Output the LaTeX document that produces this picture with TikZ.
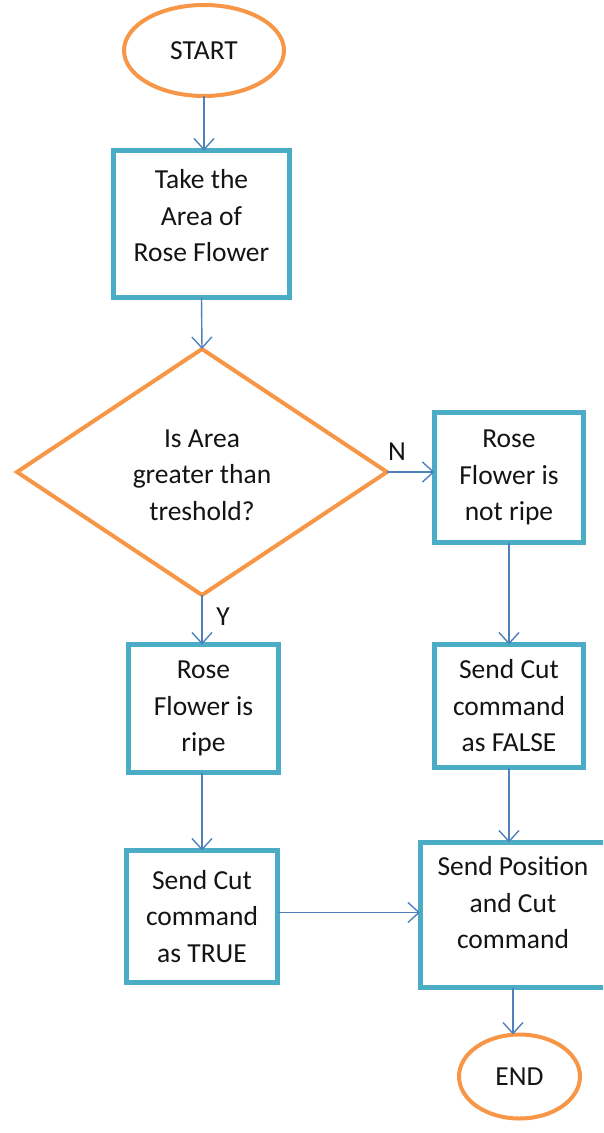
\documentclass[tikz,border=0pt]{standalone}
\usepackage{fontspec}
\setmainfont{Carlito}
\usetikzlibrary{shapes.geometric,arrows.meta}
\definecolor{termorange}{HTML}{F79646}
\definecolor{boxteal}{HTML}{4BACC6}
\definecolor{flowblue}{HTML}{4F81BD}
\definecolor{inkdark}{HTML}{141414}
\begin{document}
\begin{tikzpicture}[x=1pt,y=-1pt,
  every node/.style={font=\fontsize{27.5}{36.5}\selectfont, text=inkdark,
    inner sep=0pt, outer sep=0pt, align=center},
  terminal/.style={ellipse, draw=termorange, line width=4pt},
  decision/.style={diamond, draw=termorange, line width=4pt},
  stepbox/.style={rectangle, draw=boxteal, line width=5pt},
  flow/.style={draw=flowblue, line width=1.4pt,
    -{Straight Barb[length=11pt,width=20pt,line width=1.4pt]}}]
  \useasboundingbox (0,0) rectangle (603,1133);
  \clip (0,0) rectangle (603,1133);

  % terminals
  \node[terminal, minimum width=160pt, minimum height=91pt] (start) at (204,50.5) {START};
  \node[terminal, minimum width=121pt, minimum height=84pt] (end) at (519.5,1076.5) {END};

  % process boxes
  \node[stepbox, minimum width=176pt, minimum height=147pt] (take) at (201.5,224) {};
  \node (taketext) at (201.5,216) {Take the\\Area of\\Rose Flower};
  \node[stepbox, minimum width=149pt, minimum height=130pt] (notripe) at (509,477.5)
    {Rose\\Flower is\\not ripe};
  \node[stepbox, minimum width=149pt, minimum height=123pt] (sendfalse) at (509,706)
    {Send Cut\\command\\as FALSE};
  \node[stepbox, minimum width=150pt, minimum height=128pt] (ripe) at (203.5,708.5)
    {Rose\\Flower is\\ripe};
  \node[stepbox, minimum width=151pt, minimum height=132pt] (sendtrue) at (202,916.5)
    {Send Cut\\command\\as TRUE};
  \node[stepbox, minimum width=186pt, minimum height=145pt] (sendpos) at (513,915) {};
  \node (sendpostext) at (513,903) {Send Position\\and Cut\\command};

  % decision
  \node[decision, minimum width=370pt, minimum height=246pt] (check) at (202,472) {};
  \node (checktext) at (202,475) {Is Area\\greater than\\treshold?};

  % branch labels
  \node (nlabel) at (397,452) {N};
  \node (ylabel) at (223,617) {Y};

  % connectors
  \draw[flow] (start.south) -- (start.south |- take.north);
  \draw[flow] (take.south) -- (check.north);
  \draw[flow] (check.east) -- (notripe.west |- check.east);
  \draw[flow] (check.south) -- (check.south |- ripe.north);
  \draw[flow] (ripe.south -| check.south) -- (check.south |- sendtrue.north);
  \draw[flow] (notripe.south) -- (sendfalse.north);
  \draw[flow] (sendfalse.south) -- (sendfalse.south |- sendpos.north);
  \draw[flow] (sendtrue.east) ++(0,-4) coordinate (tr) -- (sendpos.west |- tr);
  \draw[flow] (sendpos.south) -- (sendpos.south |- end.north);
\end{tikzpicture}
\end{document}
